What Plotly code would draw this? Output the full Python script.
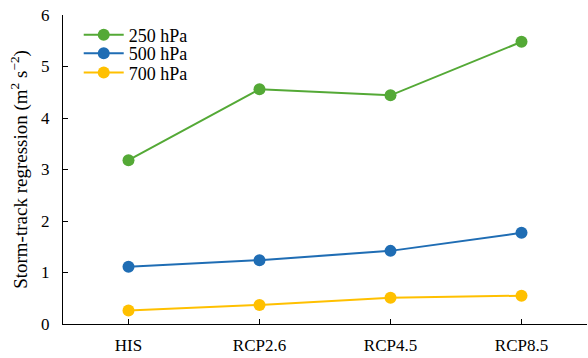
import plotly.graph_objects as go

# Scenarios and storm-track regression values (m^2 s^-2) at each pressure level
scenarios = ["HIS", "RCP2.6", "RCP4.5", "RCP8.5"]
hpa_250 = [3.18, 4.56, 4.44, 5.48]
hpa_500 = [1.11, 1.24, 1.42, 1.77]
hpa_700 = [0.26, 0.37, 0.51, 0.55]

series = [
    ("250 hPa", hpa_250, "#54A936"),
    ("500 hPa", hpa_500, "#1F6DB4"),
    ("700 hPa", hpa_700, "#FFC000"),
]

# one compact legend per series so the rows sit close together
legend_ids = ["legend", "legend2", "legend3"]
legend_rows = [0.935, 0.875, 0.813]

fig = go.Figure()
for (name, vals, color), lid in zip(series, legend_ids):
    fig.add_trace(go.Scatter(
        x=scenarios, y=vals, name=name, mode="lines+markers",
        line=dict(color=color, width=2),
        marker=dict(color=color, size=12),
        legend=lid,
    ))

font_family = "Liberation Serif"
legend_style = dict(
    x=0.03, xanchor="left", yanchor="middle",
    font=dict(size=18), bgcolor="rgba(0,0,0,0)", itemwidth=40,
)
fig.update_layout(
    width=588, height=358,
    margin=dict(l=63, r=1, t=15, b=34),
    paper_bgcolor="white", plot_bgcolor="white",
    font=dict(family=font_family, size=17, color="black"),
    showlegend=True,
    legend=dict(y=legend_rows[0], **legend_style),
    legend2=dict(y=legend_rows[1], **legend_style),
    legend3=dict(y=legend_rows[2], **legend_style),
    xaxis=dict(
        range=[-0.5, 3.5], showline=True, linecolor="black", linewidth=1,
        ticks="inside", ticklen=5, tickcolor="black", showgrid=False,
        zeroline=False, tickfont=dict(size=17), ticklabelstandoff=6,
    ),
    yaxis=dict(
        range=[0, 6], dtick=1, showline=True, linecolor="black", linewidth=1,
        ticks="inside", ticklen=5, tickcolor="black", showgrid=False,
        zeroline=False, tickfont=dict(size=17), ticklabelstandoff=9,
        title=dict(text="Storm-track regression (m<sup>2</sup> s<sup>\u22122</sup>)",
                   font=dict(size=19), standoff=8),
    ),
)

fig.write_html("out.html")
